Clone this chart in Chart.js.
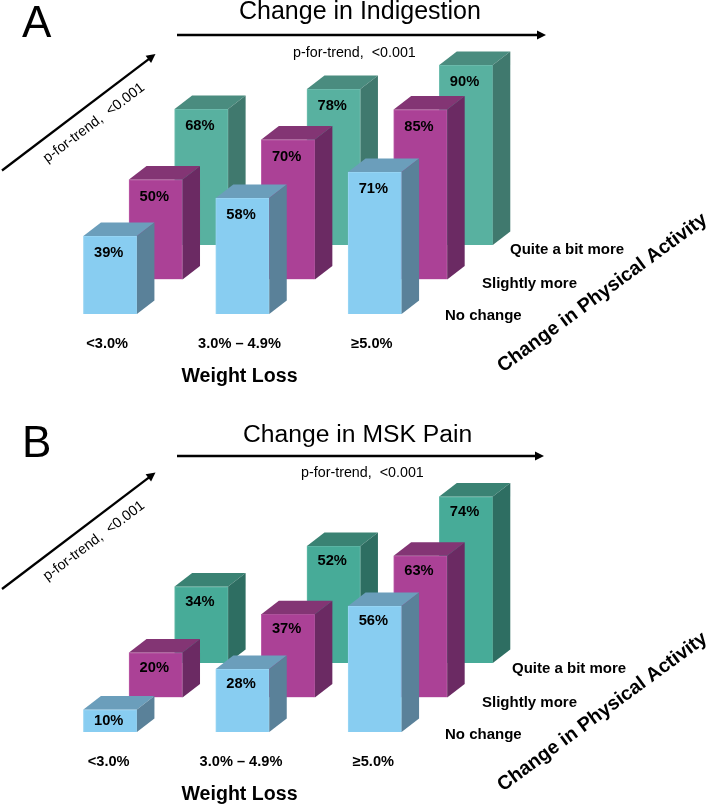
<!DOCTYPE html>
<html>
<head>
<meta charset="utf-8">
<script src="https://cdn.jsdelivr.net/npm/chart.js@4"></script>
<style>
  body { margin: 0; background: #fff; }
  canvas { position: absolute; left: 0; display: block; }
  #panelA { top: 0; }
  #panelB { top: 402px; }
</style>
</head>
<body>
<canvas id="panelA" width="708" height="402"></canvas>
<canvas id="panelB" width="708" height="403"></canvas>
<script>
var weightLoss = ["<3.0%", "3.0% – 4.9%", "≥5.0%"];
var activityLevels = ["No change", "Slightly more", "Quite a bit more"];

// values in percent, one list per physical activity row
var indigestionNoChange = [39, 58, 71];
var indigestionSlightly = [50, 70, 85];
var indigestionQuiteABit = [68, 78, 90];

var painNoChange = [10, 28, 56];
var painSlightly = [20, 37, 63];
var painQuiteABit = [34, 52, 74];

var FONT = '"Liberation Sans", Arial, sans-serif';
var ROW_DX = 45.6;
var ROW_DY = 34.5;
var SIDE_DX = 17.5;
var SIDE_DY = 13.5;

function poly(ctx, color, pts) {
	ctx.fillStyle = color;
	ctx.beginPath();
	ctx.moveTo(pts[0][0], pts[0][1]);
	for (var i = 1; i < pts.length; i++) {
		ctx.lineTo(pts[i][0], pts[i][1]);
	}
	ctx.closePath();
	ctx.fill();
}

function arrow(ctx, x1, y1, x2, y2) {
	var a = Math.atan2(y2 - y1, x2 - x1);
	ctx.strokeStyle = "#000";
	ctx.lineWidth = 2.3;
	ctx.beginPath();
	ctx.moveTo(x1, y1);
	ctx.lineTo(x2 - 6 * Math.cos(a), y2 - 6 * Math.sin(a));
	ctx.stroke();
	ctx.save();
	ctx.translate(x2, y2);
	ctx.rotate(a);
	poly(ctx, "#000", [[0, 0], [-9, -4.5], [-9, 4.5]]);
	ctx.restore();
}

function text(ctx, str, x, y, font, align, angle) {
	ctx.save();
	ctx.fillStyle = "#000";
	ctx.font = font;
	ctx.textAlign = align || "left";
	ctx.textBaseline = angle ? "middle" : "alphabetic";
	ctx.translate(x, y);
	if (angle) ctx.rotate(angle * Math.PI / 180);
	ctx.fillText(str, 0, 0);
	ctx.restore();
}

// shifts each row back and adds the top and side faces to the library's bars
var bars3d = {
	id: "bars3d",
	beforeDatasetDraw: function(chart, args) {
		chart.ctx.save();
		chart.ctx.translate(args.index * ROW_DX, -args.index * ROW_DY);
	},
	afterDatasetDraw: function(chart, args, opts) {
		var ctx = chart.ctx;
		var ds = chart.data.datasets[args.index];
		args.meta.data.forEach(function(bar, i) {
			var l = bar.x - bar.width / 2;
			var r = bar.x + bar.width / 2;
			poly(ctx, ds.topColor, [[l, bar.y], [r, bar.y], [r + SIDE_DX, bar.y - SIDE_DY], [l + SIDE_DX, bar.y - SIDE_DY]]);
			poly(ctx, ds.sideColor, [[r, bar.y], [r + SIDE_DX, bar.y - SIDE_DY], [r + SIDE_DX, bar.base - SIDE_DY], [r, bar.base]]);
			var h = bar.base - bar.y;
			var labelY = bar.y + Math.min(opts.labelDrop, h / 2);
			ctx.save();
			ctx.fillStyle = "#000";
			ctx.font = "bold 14.7px " + FONT;
			ctx.textAlign = "center";
			ctx.textBaseline = "middle";
			ctx.fillText(ds.data[i] + "%", bar.x - 1.5, labelY);
			ctx.restore();
		});
		ctx.restore();
	},
};

var notes = {
	id: "notes",
	afterDraw: function(chart, args, o) {
		var ctx = chart.ctx;
		text(ctx, o.letter, o.letterX, o.letterY, "44px " + FONT);
		text(ctx, o.title, o.titleX, o.titleY, o.titleSize + "px " + FONT);
		arrow(ctx, 177, o.arrowY, o.arrowEnd, o.arrowY);
		text(ctx, "p-for-trend,  <0.001", o.trendX, o.trendY, "14.3px " + FONT);
		arrow(ctx, 2, o.diagY, 155.5, o.diagY - 116.5);
		text(ctx, "p-for-trend,  <0.001", 94, o.diagTextY, "14.3px " + FONT, "center", -37);
		for (var i = 0; i < activityLevels.length; i++) {
			text(ctx, activityLevels[i], o.rowX[i], o.rowY[i], "bold 15px " + FONT);
		}
		text(ctx, "Weight Loss", 239.5, o.weightY, "bold 19.6px " + FONT, "center");
		text(ctx, "Change in Physical Activity", 602.5, o.activityY, "bold 19.5px " + FONT, "center", -36.3);
	},
};

function makePanel(id, rows, teal, padTop, padBottom, o) {
	new Chart(document.getElementById(id), {
		type: "bar",
		data: {
			labels: weightLoss,
			datasets: [
				{ label: activityLevels[0], data: rows[0], backgroundColor: "#88CDF1", borderColor: "#9AD6F4", topColor: "#6B9EBB", sideColor: "#5A8199" },
				{ label: activityLevels[1], data: rows[1], backgroundColor: "#AB4196", borderColor: "#BC5CA8", topColor: "#833574", sideColor: "#6B2A63" },
				{ label: activityLevels[2], data: rows[2], backgroundColor: teal[0], borderColor: teal[3], topColor: teal[1], sideColor: teal[2] },
			],
		},
		options: {
			responsive: false,
			animation: false,
			layout: { padding: { left: 44, right: 267, top: padTop, bottom: padBottom } },
			datasets: { bar: { grouped: false, barThickness: 53.5, borderWidth: 1 } },
			scales: {
				x: {
					grid: { display: false },
					border: { display: false },
					afterFit: function(scale) { scale.height = 60; },
					ticks: {
						color: "#000",
						padding: 13,
						labelOffset: o.tickOffset,
						maxRotation: 0,
						font: { family: FONT, size: 14.6, weight: "bold" },
					},
				},
				y: { display: false, min: 0, max: 100 },
			},
			plugins: {
				legend: { display: false },
				tooltip: { enabled: false },
				bars3d: { labelDrop: o.labelDrop },
				notes: o,
			},
		},
		plugins: [bars3d, notes],
	});
}

makePanel("panelA", [indigestionNoChange, indigestionSlightly, indigestionQuiteABit],
	["#58B1A0", "#4A8C7F", "#40796E", "#70BEAF"], 114, 28, {
	letter: "A", letterX: 22, letterY: 37,
	title: "Change in Indigestion", titleX: 239, titleY: 19, titleSize: 25,
	arrowY: 35, arrowEnd: 546,
	trendX: 293, trendY: 57,
	diagY: 170.5, diagTextY: 123,
	rowX: [445, 482, 510], rowY: [320, 288, 254],
	weightY: 382, activityY: 293,
	tickOffset: -3, labelDrop: 17,
});

makePanel("panelB", [painNoChange, painSlightly, painQuiteABit],
	["#47AB98", "#3A8273", "#2E6E62", "#62B9A8"], 105, 13, {
	letter: "B", letterX: 22, letterY: 55,
	title: "Change in MSK Pain", titleX: 243, titleY: 40, titleSize: 24.7,
	arrowY: 54, arrowEnd: 544,
	trendX: 301, trendY: 75,
	diagY: 187, diagTextY: 139,
	rowX: [445, 482, 512], rowY: [337, 305, 271],
	weightY: 398, activityY: 310,
	tickOffset: -1.5, labelDrop: 15,
});
</script>
</body>
</html>
